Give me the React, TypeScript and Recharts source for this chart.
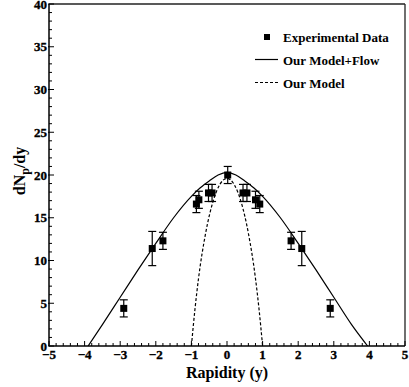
import React from "react";
import {
  ComposedChart,
  Line,
  Scatter,
  ErrorBar,
  XAxis,
  YAxis,
  ReferenceLine,
  Label,
} from "recharts";

// Experimental data
const expRapidity = [-2.9, -2.1, -1.8, -0.86, -0.79, -0.52, -0.42, 0.02, 0.45, 0.56, 0.8, 0.92, 1.8, 2.1, 2.9];
const expYield = [4.4, 11.4, 12.3, 16.6, 17.1, 17.9, 17.9, 20.0, 17.9, 17.9, 17.1, 16.6, 12.3, 11.4, 4.4];
const expError = [1, 2, 1, 1, 1, 1, 1, 1, 1, 1, 1, 1, 1, 2, 1];

// Our Model + Flow (solid)
const flowRapidity = [-3.9, -3.5, -3, -2.5, -2, -1.5, -1, -0.75, -0.5, -0.25, 0, 0.25, 0.5, 0.75, 1, 1.5, 2, 2.5, 3, 3.5, 3.95];
const flowYield = [0, 2.5, 5.7, 8.9, 12.0, 15.0, 17.5, 18.5, 19.3, 20.0, 20.3, 20.0, 19.3, 18.5, 17.5, 15.0, 12.0, 8.9, 5.7, 2.5, 0];

// Our Model (dashed)
const modelRapidity = [-1, -0.9, -0.8, -0.6, -0.4, -0.2, 0, 0.2, 0.4, 0.6, 0.8, 0.9, 1];
const modelYield = [0, 4.3, 7.9, 13.2, 16.8, 18.9, 19.6, 18.9, 16.8, 13.2, 7.9, 4.3, 0];

// Ticks
const xMajorTicks = [-5, -4, -3, -2, -1, 0, 1, 2, 3, 4, 5];
const yMajorTicks = [0, 5, 10, 15, 20, 25, 30, 35, 40];
const xMinorStep = 0.2;
const yMinorStep = 1;

// Legend
const legendLabels = ["Experimental Data", "Our Model+Flow", "Our Model"];

const buildTicks = (min: number, max: number, step: number) => {
  const out: number[] = [];
  const n = Math.round((max - min) / step);
  for (let i = 0; i <= n; i++) out.push(Math.round((min + i * step) * 1000) / 1000);
  return out;
};
const xTicks = buildTicks(-5, 5, xMinorStep);
const yTicks = buildTicks(0, 40, yMinorStep);

const expData = expRapidity.map((x, i) => ({ x, y: expYield[i], err: expError[i] }));
const flowData = flowRapidity.map((x, i) => ({ x, y: flowYield[i] }));
const modelData = modelRapidity.map((x, i) => ({ x, y: modelYield[i] }));

const FONT = "'Liberation Serif', 'Times New Roman', serif";

const fmt = (v: number) => (v < 0 ? "\u2212" + Math.abs(v) : String(v));

const tickText = {
  fontFamily: FONT,
  fontWeight: 700 as const,
  fontSize: 13,
  fill: "#000",
  stroke: "#000",
  strokeWidth: 0.35,
  opacity: 1,
};

const XTick = (props: any) => {
  const { x, y, payload } = props;
  const v = payload.value;
  const major = xMajorTicks.some((m) => Math.abs(m - v) < 1e-6);
  return (
    <g opacity={1}>
      <line x1={x} x2={x} y1={y} y2={y - (major ? 5 : 3)} stroke="#000" strokeWidth={1} />
      {major && (
        <text x={x} y={y + 13} textAnchor="middle" style={tickText}>
          {fmt(v)}
        </text>
      )}
    </g>
  );
};

const YTick = (props: any) => {
  const { x, y, payload } = props;
  const v = payload.value;
  const major = yMajorTicks.some((m) => Math.abs(m - v) < 1e-6);
  return (
    <g opacity={1}>
      <line x1={x - (major ? 1 : 0)} x2={x + (major ? 5 : 3)} y1={y} y2={y} stroke="#000" strokeWidth={1} />
      {major && (
        <text x={x - 2} y={v === 40 ? y + 5 : y + 4.5} textAnchor="end" style={tickText}>
          {fmt(v)}
        </text>
      )}
    </g>
  );
};

const Square = (props: any) => {
  const { cx, cy } = props;
  if (cx == null || cy == null) return null;
  return <rect x={cx - 3.5} y={cy - 3.5} width={7} height={7} fill="#000" />;
};

const YLabel = (props: any) => {
  const vb = props.viewBox || {};
  const cx = 25;
  const cy = vb.y + vb.height / 2 - 4;
  return (
    <text
      x={cx}
      y={cy}
      transform={`rotate(-90, ${cx}, ${cy})`}
      textAnchor="middle"
      style={{ fontFamily: FONT, fontWeight: "bold", fontSize: 16 }}
      fill="#000"
    >
      dN
      <tspan dy={4} style={{ fontSize: 12 }}>p</tspan>
      <tspan dy={-4}>/dy</tspan>
    </text>
  );
};

const legendText = { fontFamily: FONT, fontWeight: "bold" as const, fontSize: 13 };

const LegendOverlay = () => (
  <svg
    width={150}
    height={70}
    style={{ position: "absolute", left: 253, top: 30, overflow: "visible", pointerEvents: "none" }}
  >
    <rect x={11} y={4} width={6} height={6} fill="#000" />
    <text x={30} y={11.5} style={legendText} fill="#000">
      {legendLabels[0]}
    </text>
    <line x1={2} x2={25} y1={29.5} y2={29.5} stroke="#000" strokeWidth={1.2} />
    <text x={30} y={34.5} style={legendText} fill="#000">
      {legendLabels[1]}
    </text>
    <line x1={2} x2={25} y1={52.5} y2={52.5} stroke="#000" strokeWidth={1.2} strokeDasharray="3 2" />
    <text x={30} y={57.5} style={legendText} fill="#000">
      {legendLabels[2]}
    </text>
  </svg>
);

export default function App() {
  return (
    <div style={{ position: "absolute", left: 0, top: 0, width: 409, height: 387, background: "#fff" }}>
      <ComposedChart width={409} height={387} margin={{ top: 4, right: 4, bottom: 0, left: 0 }}>
        <XAxis
          type="number"
          dataKey="x"
          domain={[-5, 5]}
          ticks={xTicks}
          interval={0}
          allowDataOverflow
          tickLine={false}
          tickSize={0}
          tickMargin={0}
          tick={<XTick />}
          height={41}
          axisLine={{ stroke: "#000", strokeWidth: 1.5 }}
        >
          <Label
            value="Rapidity (y)"
            position="insideBottom"
            offset={9}
            style={{ fontFamily: FONT, fontWeight: "bold", fontSize: 16, fill: "#000" }}
          />
        </XAxis>
        <YAxis
          type="number"
          domain={[0, 40]}
          ticks={yTicks}
          interval={0}
          allowDataOverflow
          tickLine={false}
          tickSize={0}
          tickMargin={0}
          tick={<YTick />}
          width={49}
          axisLine={{ stroke: "#000", strokeWidth: 1.5 }}
          label={<YLabel />}
        />
        <ReferenceLine y={40} stroke="#222" strokeWidth={1.3} />
        <ReferenceLine x={5} stroke="#222" strokeWidth={1.3} />
        <Line
          data={flowData}
          dataKey="y"
          type="monotone"
          stroke="#000"
          strokeWidth={1.2}
          dot={false}
          isAnimationActive={false}
        />
        <Line
          data={modelData}
          dataKey="y"
          type="monotone"
          stroke="#000"
          strokeWidth={1.2}
          strokeDasharray="3 2"
          dot={false}
          isAnimationActive={false}
        />
        <Scatter data={expData} dataKey="y" shape={<Square />} isAnimationActive={false}>
          <ErrorBar dataKey="err" direction="y" width={4} stroke="#000" strokeWidth={1.2} />
        </Scatter>
      </ComposedChart>
      <LegendOverlay />
    </div>
  );
}
